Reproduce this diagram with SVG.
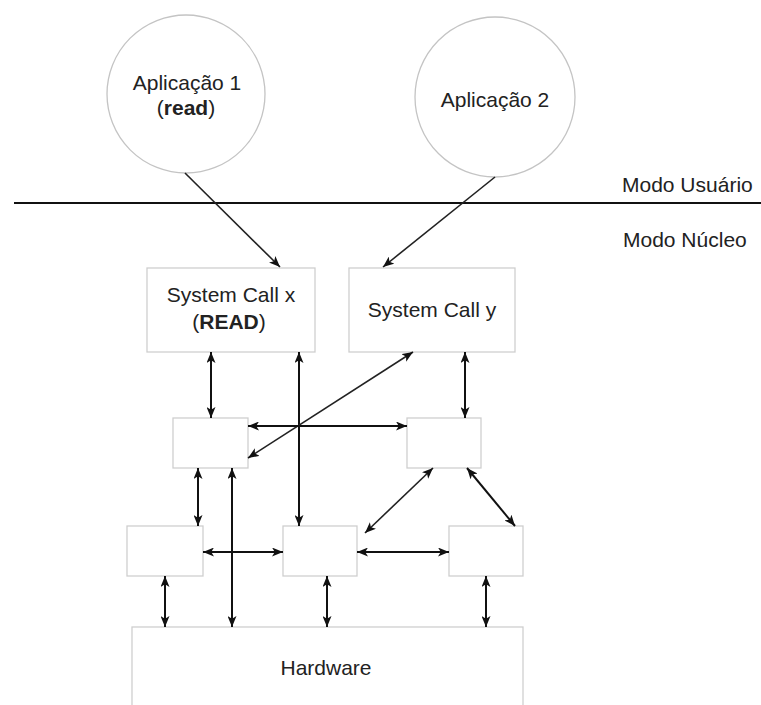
<svg xmlns="http://www.w3.org/2000/svg" width="761" height="705" viewBox="0 0 761 705">
  <style>
    text { font-family: "Liberation Sans", Arial, sans-serif; font-size: 21px; fill: #222; text-anchor: middle; }
    .box { fill: #fff; stroke: #cfcfcf; stroke-width: 1.3; }
    .app { fill: #fff; stroke: #c4c4c4; stroke-width: 1.3; }
    .link { fill: none; stroke: #111; stroke-width: 2; }
    .call { fill: none; stroke: #222; stroke-width: 1.6; }
    .mode { text-anchor: start; }
    .b { font-weight: bold; }
  </style>
  <defs>
    <marker id="head" viewBox="0 0 11 9" refX="11" refY="4.5" markerWidth="11" markerHeight="9" markerUnits="userSpaceOnUse" orient="auto-start-reverse">
      <path d="M0,0 L11,4.5 L0,9 L2.8,4.5 z" fill="#111"/>
    </marker>
  </defs>

  <rect width="761" height="705" fill="#fff"/>

  <!-- user / kernel boundary -->
  <g id="boundary">
    <line x1="14" y1="203" x2="761" y2="203" stroke="#111" stroke-width="2"/>
    <text class="mode" x="622" y="192">Modo Usuário</text>
    <text class="mode" x="623" y="247">Modo Núcleo</text>
  </g>

  <g id="app1">
    <circle class="app" cx="186" cy="94" r="79"/>
    <text x="187" y="90">Aplicação 1</text>
    <text x="186" y="115">(<tspan class="b">read</tspan>)</text>
  </g>

  <g id="app2">
    <circle class="app" cx="495" cy="97" r="80"/>
    <text x="495" y="107">Aplicação 2</text>
  </g>

  <g id="syscall-x">
    <rect class="box" x="147" y="268" width="168" height="84"/>
    <text x="231" y="302">System Call x</text>
    <text x="229" y="329">(<tspan class="b">READ</tspan>)</text>
  </g>

  <g id="syscall-y">
    <rect class="box" x="349" y="268" width="166" height="84"/>
    <text x="432" y="317">System Call y</text>
  </g>

  <g id="proc-a"><rect class="box" x="173" y="418" width="75" height="50"/></g>
  <g id="proc-b"><rect class="box" x="407" y="418" width="74" height="50"/></g>
  <g id="proc-c"><rect class="box" x="127" y="526" width="76" height="50"/></g>
  <g id="proc-d"><rect class="box" x="283" y="526" width="74" height="50"/></g>
  <g id="proc-e"><rect class="box" x="449" y="526" width="74" height="50"/></g>

  <g id="hardware">
    <rect class="box" x="132" y="627" width="391" height="100"/>
    <text x="326" y="675">Hardware</text>
  </g>

  <g id="connectors">
    <line class="call" x1="185" y1="173" x2="280" y2="267" marker-end="url(#head)"/>
    <line class="call" x1="495" y1="177" x2="383" y2="267" marker-end="url(#head)"/>

    <line class="link" x1="211" y1="352" x2="211" y2="418" marker-start="url(#head)" marker-end="url(#head)"/>
    <line class="link" x1="299" y1="352" x2="299" y2="526" marker-start="url(#head)" marker-end="url(#head)"/>
    <line class="call" x1="413" y1="352" x2="248" y2="458" marker-start="url(#head)" marker-end="url(#head)"/>
    <line class="link" x1="465" y1="352" x2="465" y2="418" marker-start="url(#head)" marker-end="url(#head)"/>

    <line class="link" x1="248" y1="426" x2="407" y2="426" marker-start="url(#head)" marker-end="url(#head)"/>
    <line class="link" x1="198" y1="468" x2="198" y2="526" marker-start="url(#head)" marker-end="url(#head)"/>
    <line class="link" x1="232" y1="468" x2="232" y2="627" marker-start="url(#head)" marker-end="url(#head)"/>
    <line class="call" x1="433" y1="468" x2="365" y2="533" marker-start="url(#head)" marker-end="url(#head)"/>
    <line class="link" x1="467" y1="468" x2="515" y2="526" marker-start="url(#head)" marker-end="url(#head)"/>

    <line class="link" x1="203" y1="552" x2="283" y2="552" marker-start="url(#head)" marker-end="url(#head)"/>
    <line class="link" x1="357" y1="552" x2="449" y2="552" marker-start="url(#head)" marker-end="url(#head)"/>

    <line class="link" x1="165" y1="576" x2="165" y2="627" marker-start="url(#head)" marker-end="url(#head)"/>
    <line class="link" x1="327" y1="576" x2="327" y2="627" marker-start="url(#head)" marker-end="url(#head)"/>
    <line class="link" x1="486" y1="576" x2="486" y2="627" marker-start="url(#head)" marker-end="url(#head)"/>
  </g>
</svg>
